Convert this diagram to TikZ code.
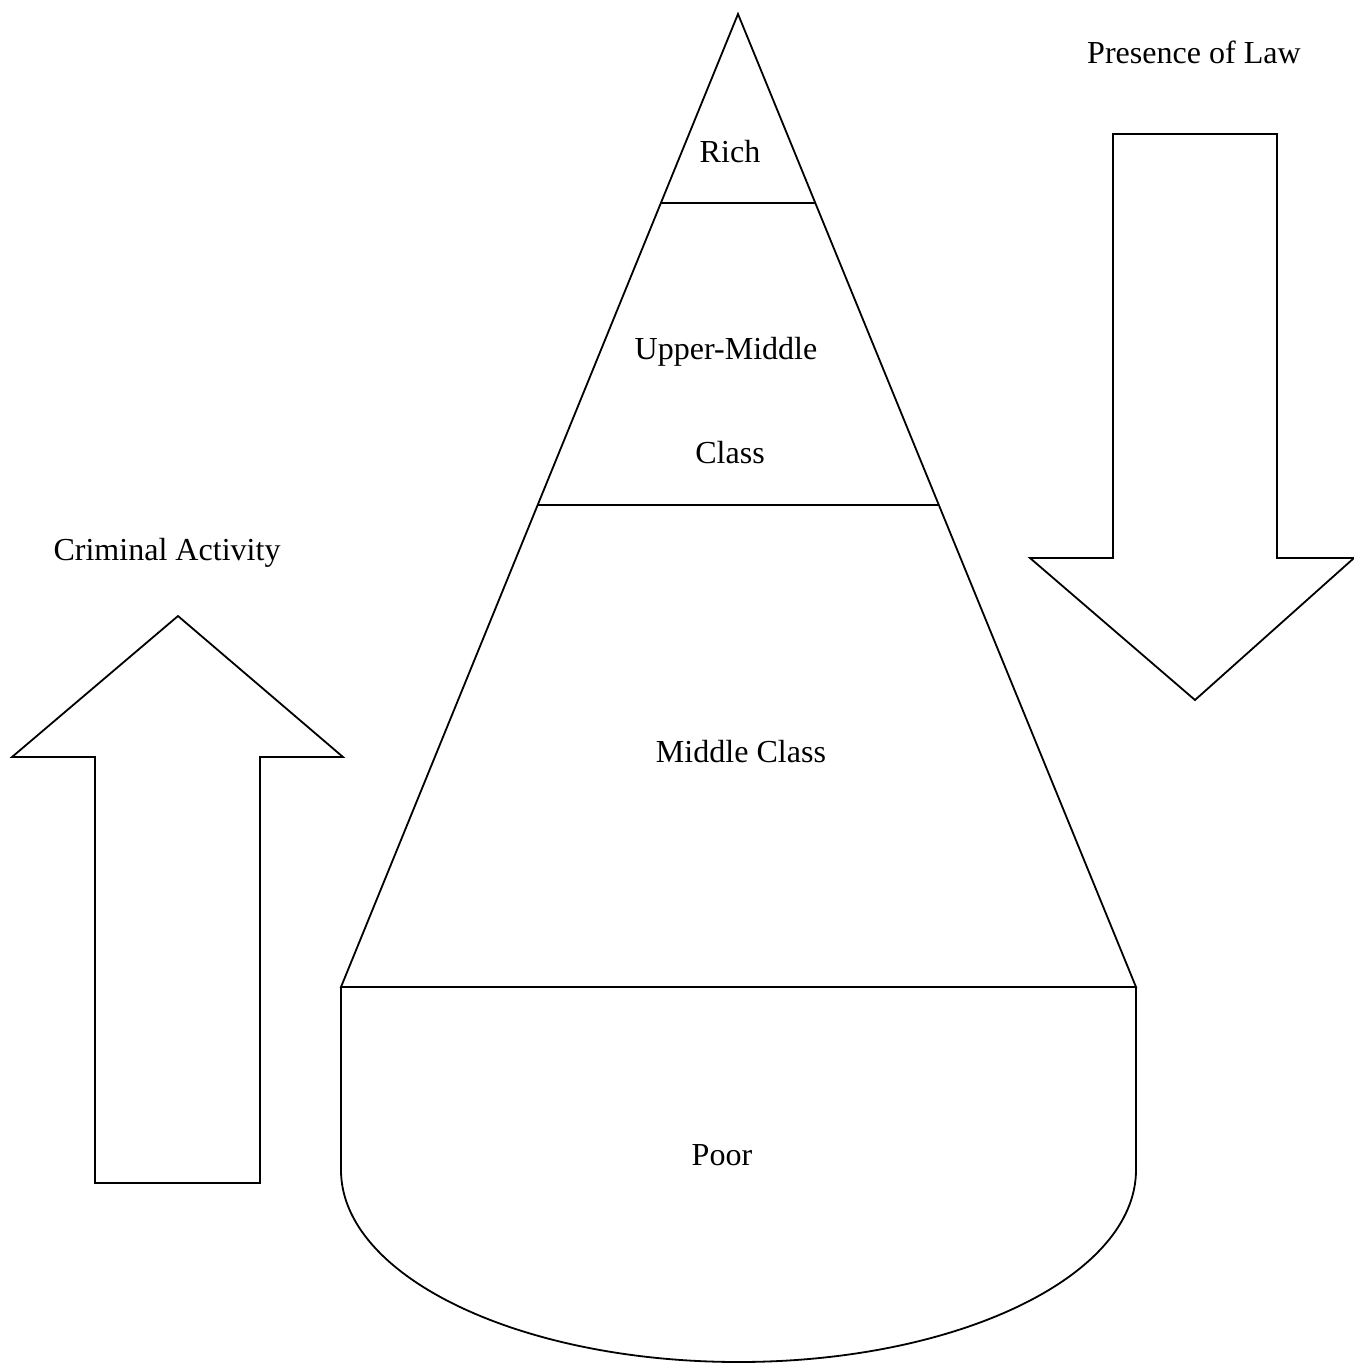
\documentclass[tikz,border=0pt]{standalone}
\usepackage{fontspec}
\setmainfont{Liberation Serif}
\usetikzlibrary{positioning}

\begin{document}
\begin{tikzpicture}[x=0.415pt,y=-0.415pt,line width=0.75pt,line join=miter,
                    class label/.style={font=\fontsize{13.3}{15}\selectfont,inner sep=0pt},
                    big arrow/.style={draw}]

  \useasboundingbox (0,0) rectangle (1354,1364);

  % pyramid corners
  \coordinate (apex) at (738,14);
  \coordinate (richL) at (661,203);
  \coordinate (richR) at (815,203);
  \coordinate (upperL) at (538,505);
  \coordinate (upperR) at (938,505);
  \coordinate (baseL) at (341,987);
  \coordinate (baseR) at (1136,987);

  \draw (apex) -- (baseL) -- (baseR) -- cycle;
  \draw (richL) -- (richR);
  \draw (upperL) -- (upperR);
  \draw (baseR) -- (1136,1170) arc[start angle=0,end angle=180,x radius=397.5,y radius=192] -- (baseL);

  \node[class label] (rich) at (730,152) {Rich};
  \node[class label] (upper) at (726,352) {Upper-Middle};
  \node[class label] (upperclass) at (730,453) {Class};
  \node[class label] (middle) at (741,752) {Middle Class};
  \node[class label] (poor) at (722,1155) {Poor};

  % arrows at the sides
  \draw[big arrow] (178,616) -- (343,757) -- (260,757) -- (260,1183)
                   -- (95,1183) -- (95,757) -- (12,757) -- cycle;
  \draw[big arrow] (1195,700) -- (1354,558) -- (1277,558) -- (1277,134)
                   -- (1113,134) -- (1113,558) -- (1030,558) -- cycle;

  \node[class label] (crime) at (167,553) {Criminal Activity};
  \node[class label] (law) at (1194,52) {Presence of Law};
\end{tikzpicture}
\end{document}
